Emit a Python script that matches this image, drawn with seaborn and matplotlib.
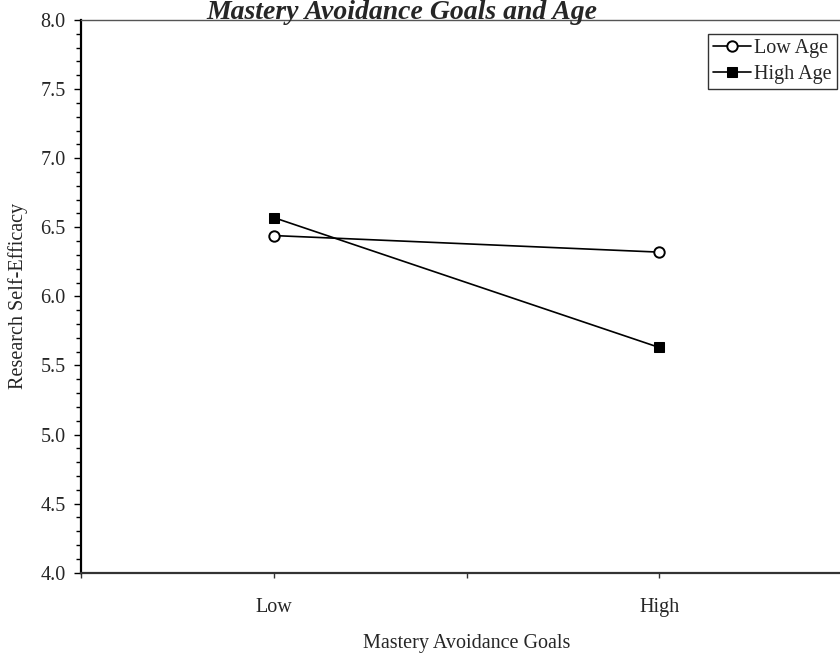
import pandas as pd
import matplotlib
matplotlib.use("Agg")
import matplotlib.pyplot as plt
from matplotlib.ticker import MultipleLocator
import seaborn as sns

# data
goal_levels = ["Low", "High"]
goal_pos = [0, 1]
low_age = [6.44, 6.32]
high_age = [6.57, 5.63]

df = pd.DataFrame({
    "goal": goal_pos * 2,
    "efficacy": low_age + high_age,
    "age": ["Low Age"] * 2 + ["High Age"] * 2,
})

sns.set_style("white")
plt.rcParams["font.family"] = ["Liberation Serif", "DejaVu Serif"]

fig = plt.figure(figsize=(8.4, 6.54), dpi=100)
ax = fig.add_axes([81 / 840, 1 - 572.7 / 654, 771 / 840, 552.7 / 654])

sns.lineplot(data=df[df["age"] == "Low Age"], x="goal", y="efficacy", color="black",
             linewidth=1.2, marker="o", markersize=7.5, markerfacecolor="white",
             markeredgecolor="black", markeredgewidth=1.4, label="Low Age", ax=ax)
sns.lineplot(data=df[df["age"] == "High Age"], x="goal", y="efficacy", color="black",
             linewidth=1.2, marker="s", markersize=6.5, markerfacecolor="black",
             markeredgecolor="black", label="High Age", ax=ax)

ax.set_xlim(-0.5, 1.5)
ax.set_ylim(4.0, 8.0)
ax.set_xticks([-0.5, 0, 0.5, 1, 1.5])
ax.set_xticklabels(["", goal_levels[0], "", goal_levels[1], ""])
ax.yaxis.set_major_locator(MultipleLocator(0.5))
ax.yaxis.set_minor_locator(MultipleLocator(0.1))
ax.yaxis.set_major_formatter(matplotlib.ticker.FormatStrFormatter("%.1f"))

ax.tick_params(axis="y", which="major", direction="out", length=5, width=1,
               labelsize=14.5, pad=6, left=True, color="black")
ax.tick_params(axis="y", which="minor", direction="out", length=3.5, width=1,
               left=True, color="black")
ax.tick_params(axis="x", which="major", direction="out", length=3.5, width=1,
               labelsize=14.5, pad=15, bottom=True, color="#333333")

ax.set_xlabel("Mastery Avoidance Goals", fontsize=14.5, labelpad=12)
ax.set_ylabel("Research Self-Efficacy", fontsize=14.5, labelpad=9)

ax.spines["left"].set_color("black")
ax.spines["left"].set_linewidth(1.6)
ax.spines["bottom"].set_color("#333333")
ax.spines["bottom"].set_linewidth(1.6)
ax.spines["top"].set_color("#555555")
ax.spines["top"].set_linewidth(1.0)

leg = ax.legend(loc="upper right", bbox_to_anchor=(837 / 840, 1 - 34 / 654),
                bbox_transform=fig.transFigure, borderaxespad=0, fontsize=14.5,
                frameon=True, fancybox=False, handlelength=1.9, handletextpad=0.15,
                borderpad=0.25, labelspacing=0.35)
leg.get_frame().set_edgecolor("black")
leg.get_frame().set_linewidth(1.0)

fig.text(402 / 840, 1 - 19 / 654, "Mastery Avoidance Goals and Age", ha="center",
         va="baseline", fontsize=20, fontweight="bold", fontstyle="italic")

fig.savefig("out.png", dpi=100, facecolor="white")
